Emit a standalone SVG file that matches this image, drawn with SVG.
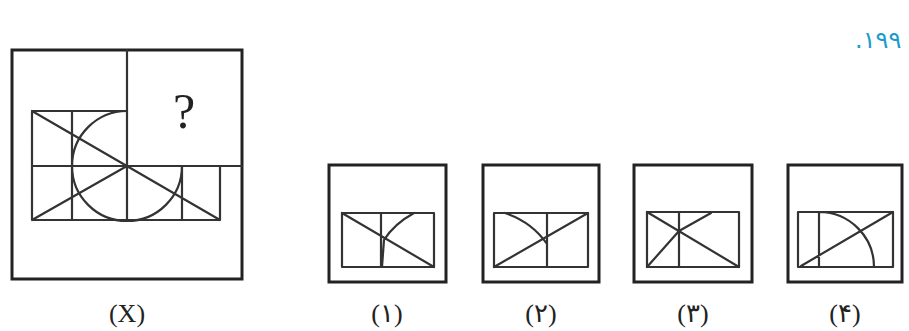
<svg xmlns="http://www.w3.org/2000/svg" width="909" height="331" viewBox="0 0 909 331">
<style>
.frame{fill:none;stroke:#222;stroke-width:3}
.ln{fill:none;stroke:#333;stroke-width:2.2;stroke-linecap:round;stroke-linejoin:round}
.lbl{font-family:"Liberation Serif","DejaVu Sans",serif;font-size:26px;fill:#222;text-anchor:middle}
.num{font-family:"DejaVu Sans","Liberation Sans",sans-serif;font-size:24px;fill:#1a9bc8}
</style>
<rect width="909" height="331" fill="#fff"/>
<text class="num" x="855" y="48">.۱۹۹</text>

<g id="question">
<rect class="frame" x="12" y="50" width="230" height="229"/>
<path class="ln" d="M127,50 V220 M127,166 H242 M32,166 H220 M32,111 H127 M32,111 V220 H220 V166 M72,111 V220 M182,166 V220 M32,111 L220,220 M32,220 L127,166"/>
<path class="ln" d="M127,111 A55,55 0 1 0 182,166"/>
<text x="184" y="128" font-family="Liberation Serif,serif" font-size="50" fill="#222" text-anchor="middle">?</text>
<text class="lbl" x="127" y="322">(X)</text>
</g>

<g id="opt1">
<rect class="frame" x="329" y="165" width="117" height="117"/>
<rect class="ln" x="342" y="213" width="92" height="54"/>
<path class="ln" d="M381,213 V267 M342,213 L434,267 M414,213 Q394,224 384,240 L382,267"/>
<text class="lbl" x="387" y="322">(۱)</text>
</g>

<g id="opt2">
<rect class="frame" x="483" y="165" width="116" height="117"/>
<rect class="ln" x="494" y="213" width="94" height="54"/>
<path class="ln" d="M547,213 V267 M494,267 L588,213 M505,213 Q532,222 547,244"/>
<text class="lbl" x="541" y="322">(۲)</text>
</g>

<g id="opt3">
<rect class="frame" x="634" y="165" width="118" height="117"/>
<rect class="ln" x="647" y="212" width="92" height="55"/>
<path class="ln" d="M679,212 V267 M647,212 L739,267 M647,267 L679,231 L711,213"/>
<text class="lbl" x="693" y="322">(۳)</text>
</g>

<g id="opt4">
<rect class="frame" x="788" y="165" width="114" height="117"/>
<rect class="ln" x="798" y="212" width="95" height="55"/>
<path class="ln" d="M819,212 V267 M801,266 L893,212 M819,212 A55,55 0 0 1 874,267"/>
<text class="lbl" x="845" y="322">(۴)</text>
</g>
</svg>
